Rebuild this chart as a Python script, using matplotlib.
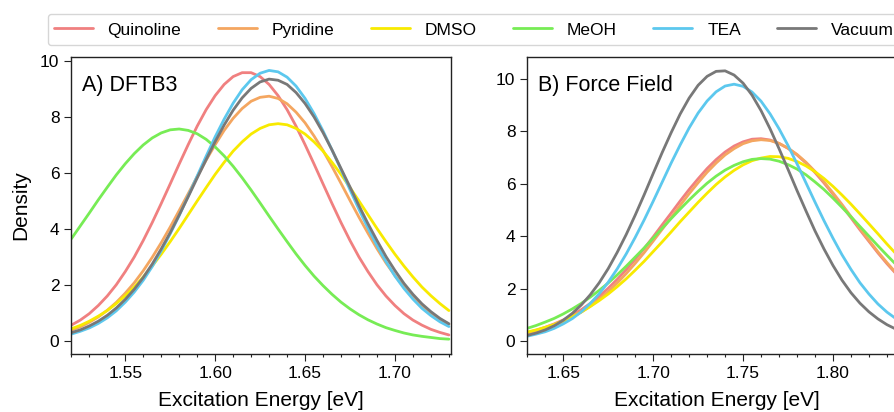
import matplotlib
matplotlib.use("Agg")
import matplotlib.pyplot as plt

plt.rcParams['font.family'] = ['Liberation Sans', 'DejaVu Sans']

labels = ["Quinoline", "Pyridine", "DMSO", "MeOH", "TEA", "Vacuum"]
colors = ["#F08080", "#F4A660", "#F8EA00", "#77EC55", "#5CC8EE", "#787878"]

# Excitation energy grids (eV)
energy_a = [1.520, 1.525, 1.530, 1.535, 1.540, 1.545, 1.550, 1.555, 1.560, 1.565,
            1.570, 1.575, 1.580, 1.585, 1.590, 1.595, 1.600, 1.605, 1.610, 1.615,
            1.620, 1.625, 1.630, 1.635, 1.640, 1.645, 1.650, 1.655, 1.660, 1.665,
            1.670, 1.675, 1.680, 1.685, 1.690, 1.695, 1.700, 1.705, 1.710, 1.715,
            1.720, 1.725, 1.730]
energy_b = [1.630, 1.635, 1.640, 1.645, 1.650, 1.655, 1.660, 1.665, 1.670, 1.675,
            1.680, 1.685, 1.690, 1.695, 1.700, 1.705, 1.710, 1.715, 1.720, 1.725,
            1.730, 1.735, 1.740, 1.745, 1.750, 1.755, 1.760, 1.765, 1.770, 1.775,
            1.780, 1.785, 1.790, 1.795, 1.800, 1.805, 1.810, 1.815, 1.820, 1.825,
            1.830, 1.835, 1.840]

# Panel A: DFTB3 densities
quinoline_a = [0.57, 0.75, 0.98, 1.27, 1.61, 2.01, 2.48, 3.00, 3.59, 4.23, 4.91, 5.61, 6.32, 7.01, 7.67,
               8.26, 8.76, 9.16, 9.44, 9.58, 9.58, 9.44, 9.16, 8.76, 8.26, 7.67, 7.01, 6.32, 5.61, 4.91,
               4.23, 3.59, 3.00, 2.48, 2.01, 1.61, 1.27, 0.98, 0.75, 0.57, 0.42, 0.31, 0.22]
pyridine_a = [0.39, 0.51, 0.67, 0.86, 1.10, 1.38, 1.71, 2.08, 2.51, 2.99, 3.51, 4.07, 4.66, 5.26, 5.87,
              6.46, 7.01, 7.52, 7.95, 8.30, 8.56, 8.70, 8.74, 8.66, 8.47, 8.17, 7.79, 7.32, 6.80, 6.23,
              5.63, 5.02, 4.42, 3.85, 3.30, 2.79, 2.34, 1.93, 1.57, 1.26, 1.00, 0.78, 0.60]
dmso_a = [0.44, 0.56, 0.71, 0.89, 1.09, 1.34, 1.62, 1.93, 2.29, 2.68, 3.10, 3.55, 4.02, 4.51, 5.00,
          5.48, 5.95, 6.38, 6.78, 7.11, 7.39, 7.59, 7.72, 7.76, 7.72, 7.59, 7.39, 7.11, 6.78, 6.38,
          5.95, 5.48, 5.00, 4.51, 4.02, 3.55, 3.10, 2.68, 2.29, 1.93, 1.62, 1.34, 1.09]
meoh_a = [3.65, 4.11, 4.57, 5.04, 5.49, 5.93, 6.33, 6.69, 7.00, 7.25, 7.43, 7.54, 7.57, 7.52, 7.40,
          7.20, 6.93, 6.61, 6.24, 5.83, 5.39, 4.93, 4.46, 4.00, 3.55, 3.11, 2.70, 2.32, 1.98, 1.67,
          1.39, 1.15, 0.94, 0.76, 0.61, 0.48, 0.38, 0.29, 0.22, 0.17, 0.13, 0.09, 0.07]
tea_a = [0.25, 0.35, 0.47, 0.63, 0.83, 1.08, 1.39, 1.75, 2.17, 2.66, 3.22, 3.83, 4.48, 5.18, 5.89,
         6.60, 7.29, 7.92, 8.49, 8.97, 9.33, 9.56, 9.66, 9.61, 9.42, 9.10, 8.66, 8.12, 7.50, 6.82,
         6.12, 5.40, 4.70, 4.03, 3.41, 2.84, 2.32, 1.88, 1.50, 1.17, 0.91, 0.69, 0.52]
vacuum_a = [0.30, 0.40, 0.54, 0.71, 0.92, 1.18, 1.49, 1.85, 2.27, 2.75, 3.29, 3.87, 4.50, 5.15, 5.82,
            6.48, 7.12, 7.71, 8.24, 8.68, 9.02, 9.25, 9.35, 9.31, 9.16, 8.87, 8.48, 8.00, 7.44, 6.82,
            6.16, 5.50, 4.83, 4.19, 3.59, 3.02, 2.52, 2.06, 1.67, 1.33, 1.05, 0.81, 0.62]

# Panel B: Force Field densities
quinoline_b = [0.32, 0.41, 0.52, 0.65, 0.80, 0.98, 1.19, 1.43, 1.70, 2.01, 2.35, 2.72, 3.11, 3.53, 3.97,
               4.43, 4.88, 5.34, 5.78, 6.19, 6.58, 6.92, 7.21, 7.44, 7.60, 7.70, 7.72, 7.67, 7.54, 7.35,
               7.10, 6.79, 6.43, 6.03, 5.60, 5.16, 4.70, 4.24, 3.80, 3.36, 2.95, 2.57, 2.21]
pyridine_b = [0.29, 0.37, 0.47, 0.59, 0.73, 0.90, 1.10, 1.33, 1.59, 1.88, 2.21, 2.57, 2.96, 3.37, 3.81,
              4.26, 4.71, 5.17, 5.62, 6.04, 6.44, 6.79, 7.10, 7.34, 7.53, 7.64, 7.68, 7.65, 7.54, 7.36,
              7.12, 6.82, 6.47, 6.07, 5.65, 5.21, 4.75, 4.29, 3.84, 3.40, 2.99, 2.60, 2.24]
dmso_b = [0.34, 0.42, 0.52, 0.63, 0.77, 0.93, 1.10, 1.31, 1.54, 1.79, 2.07, 2.37, 2.70, 3.04, 3.41,
          3.78, 4.16, 4.55, 4.92, 5.29, 5.64, 5.97, 6.26, 6.51, 6.72, 6.88, 6.98, 7.04, 7.03, 6.97,
          6.85, 6.68, 6.46, 6.20, 5.90, 5.57, 5.22, 4.85, 4.47, 4.09, 3.70, 3.33, 2.97]
meoh_b = [0.48, 0.59, 0.72, 0.86, 1.03, 1.22, 1.43, 1.67, 1.93, 2.21, 2.52, 2.85, 3.20, 3.55, 3.92,
          4.30, 4.67, 5.03, 5.38, 5.71, 6.02, 6.29, 6.52, 6.70, 6.84, 6.93, 6.96, 6.94, 6.86, 6.73,
          6.56, 6.34, 6.07, 5.78, 5.45, 5.10, 4.74, 4.37, 4.00, 3.63, 3.27, 2.92, 2.59]
tea_b = [0.18, 0.26, 0.35, 0.48, 0.65, 0.85, 1.11, 1.43, 1.80, 2.24, 2.75, 3.32, 3.95, 4.62, 5.33,
         6.06, 6.79, 7.48, 8.13, 8.70, 9.16, 9.51, 9.73, 9.80, 9.72, 9.50, 9.15, 8.67, 8.10, 7.46,
         6.76, 6.03, 5.30, 4.59, 3.92, 3.29, 2.73, 2.22, 1.79, 1.41, 1.10, 0.85, 0.64]
vacuum_b = [0.21, 0.30, 0.42, 0.58, 0.79, 1.05, 1.37, 1.76, 2.22, 2.76, 3.38, 4.06, 4.80, 5.58, 6.39,
            7.19, 7.95, 8.66, 9.27, 9.76, 10.10, 10.29, 10.31, 10.15, 9.84, 9.38, 8.79, 8.10, 7.34, 6.55,
            5.74, 4.96, 4.20, 3.51, 2.88, 2.32, 1.84, 1.44, 1.11, 0.84, 0.62, 0.45, 0.33]

series_a = [quinoline_a, pyridine_a, dmso_a, meoh_a, tea_a, vacuum_a]
series_b = [quinoline_b, pyridine_b, dmso_b, meoh_b, tea_b, vacuum_b]

xticks_a = [1.55, 1.60, 1.65, 1.70]
xticks_b = [1.65, 1.70, 1.75, 1.80]
yticks = [0, 2, 4, 6, 8, 10]

W, H = 895, 412
fig = plt.figure(figsize=(W / 100, H / 100), dpi=100)

def px_axes(left, top, right, bottom):
    return fig.add_axes([left / W, 1 - bottom / H, (right - left) / W, (bottom - top) / H])

ax_a = px_axes(71.3, 56.7, 450.7, 354)
ax_b = px_axes(527.3, 56.7, 906.7, 354)

def style(ax, x, series, xlim, ylim, xticks, title):
    lines = []
    for ys, lab, col in zip(series, labels, colors):
        ln, = ax.plot(x, ys, color=col, lw=2.0, label=lab, solid_capstyle='round',
                      solid_joinstyle='round')
        lines.append(ln)
    ax.set_xlim(*xlim)
    ax.set_ylim(*ylim)
    ax.set_xticks(xticks)
    ax.set_xticklabels([f"{t:.2f}" for t in xticks])
    ax.set_xticks([round(xlim[0] + 0.01 * i, 2) for i in range(int(round((xlim[1] - xlim[0]) / 0.01)) + 1)], minor=True)
    ax.set_yticks(yticks)
    ax.tick_params(axis='both', which='major', direction='out', length=5, width=0.8,
                   labelsize=12.5, pad=3.5, color='#222222')
    ax.tick_params(axis='both', which='minor', direction='out', length=2.5, width=0.8, color='#222222')
    for sp in ax.spines.values():
        sp.set_linewidth(1.0)
        sp.set_color('#222222')
    ax.set_xlabel("Excitation Energy [eV]", fontsize=15, labelpad=7)
    ax.text(0.027, 0.94, title, transform=ax.transAxes, fontsize=15.5, va='top', ha='left')
    return lines

lines = style(ax_a, energy_a, series_a, (1.52, 1.731), (-0.46, 10.15), xticks_a, "A) DFTB3")
style(ax_b, energy_b, series_b, (1.63, 1.841), (-0.50, 10.85), xticks_b, "B) Force Field")
ax_a.set_ylabel("Density", fontsize=15, labelpad=7)

fig.legend(lines, labels, loc='upper left', bbox_to_anchor=(47.7 / W, 1 - 14 / H),
           bbox_transform=fig.transFigure, borderaxespad=0, ncol=6, fontsize=12.5,
           handlelength=2.25, handletextpad=0.85, columnspacing=2.1, frameon=True,
           fancybox=True, edgecolor='#cccccc', framealpha=0.8, borderpad=0.35,
           handleheight=1.3)

fig.savefig("out.png", dpi=100)
